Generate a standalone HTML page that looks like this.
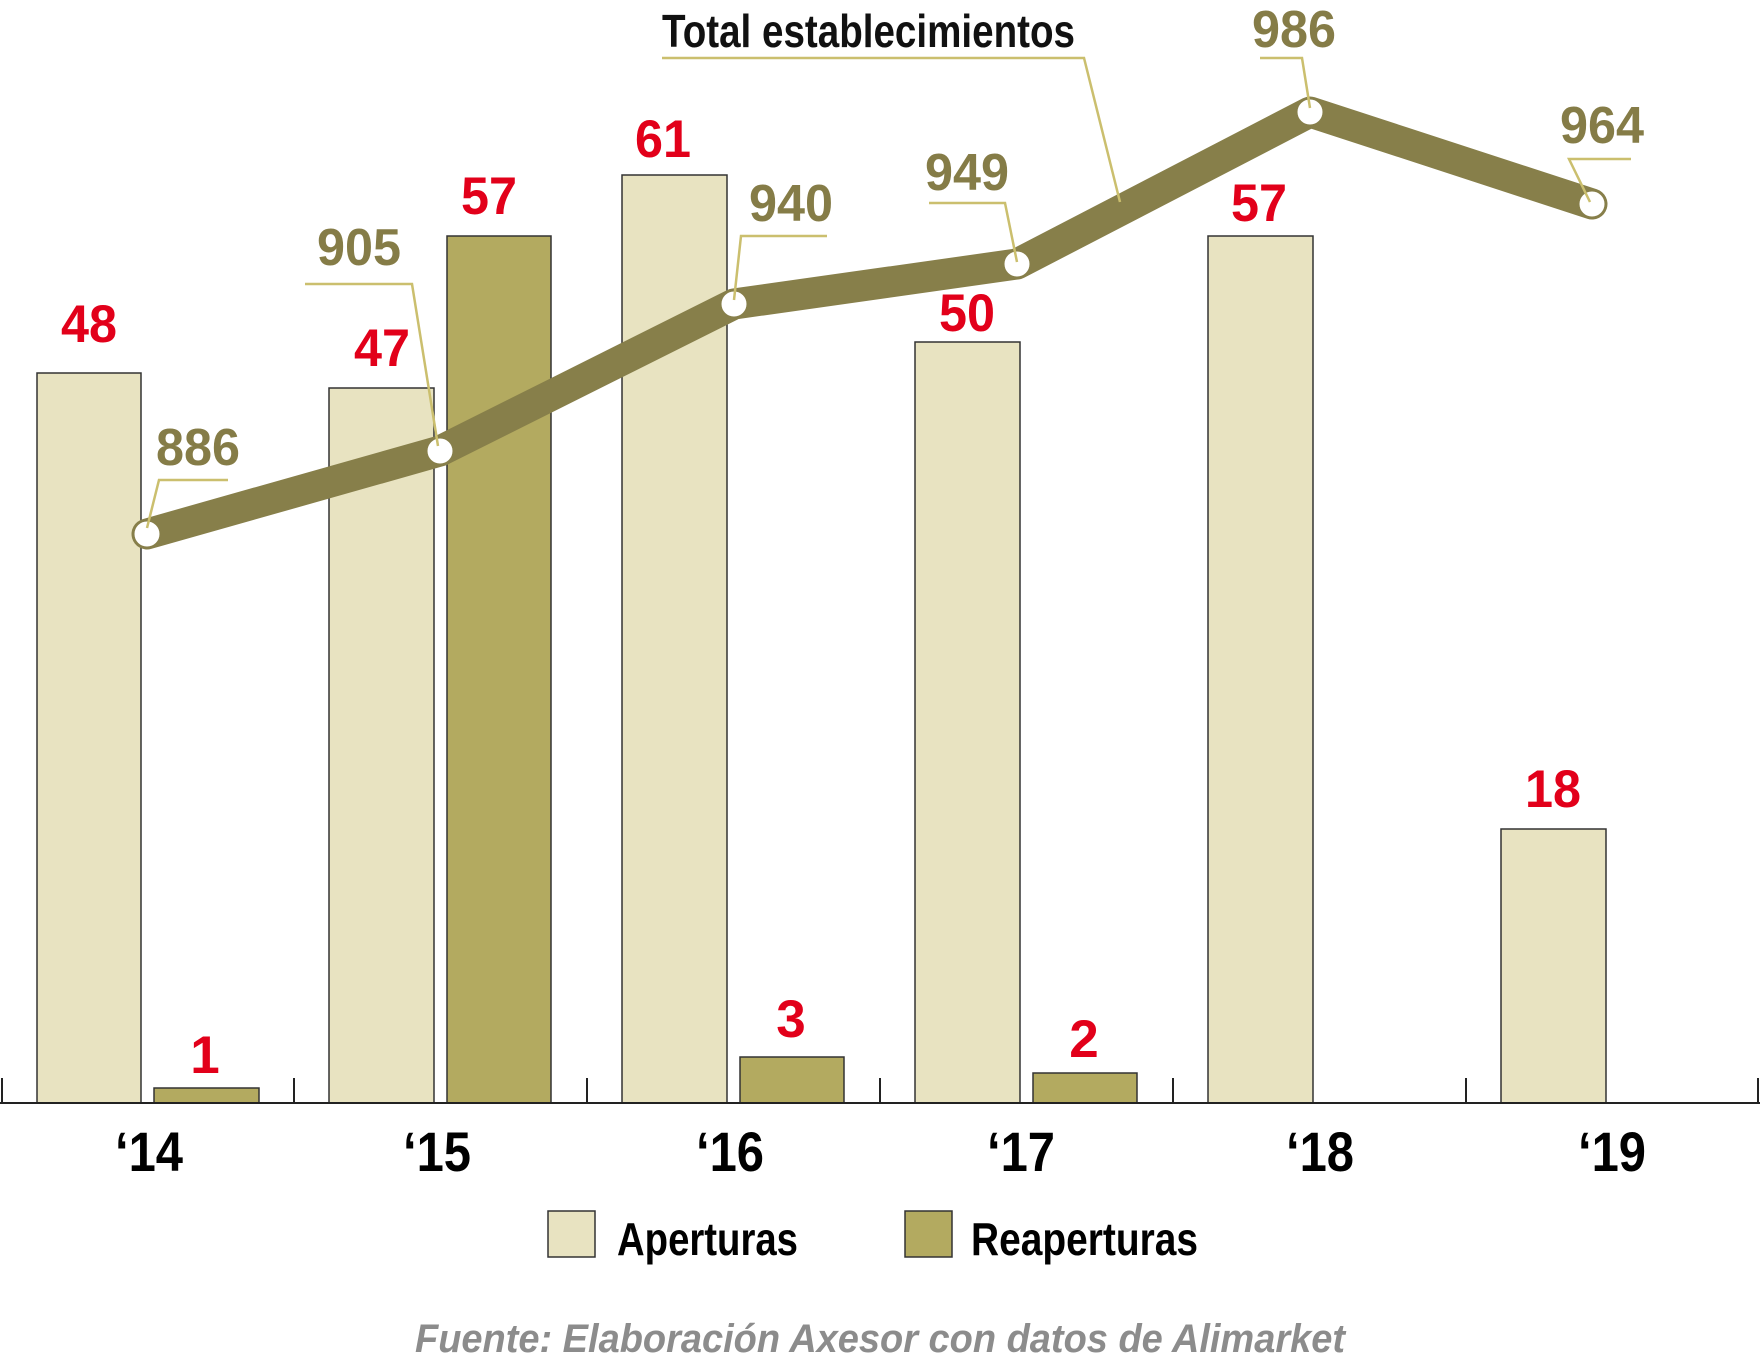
<!DOCTYPE html>
<html><head><meta charset="utf-8"><style>
html,body{margin:0;padding:0;background:#fff;}
svg{display:block}
text{font-family:"Liberation Sans Narrow","Liberation Sans",sans-serif;}
</style></head><body>
<svg width="1760" height="1365" viewBox="0 0 1760 1365" xmlns="http://www.w3.org/2000/svg">
<g stroke="#333" stroke-width="1.5">
<rect x="37" y="373" width="104" height="730" fill="#e8e3c1"/>
<rect x="154" y="1088" width="105" height="15" fill="#b3aa60"/>
<rect x="329" y="388" width="105" height="715" fill="#e8e3c1"/>
<rect x="447" y="236" width="104" height="867" fill="#b3aa60"/>
<rect x="622" y="175" width="105" height="928" fill="#e8e3c1"/>
<rect x="740" y="1057" width="104" height="46" fill="#b3aa60"/>
<rect x="915" y="342" width="105" height="761" fill="#e8e3c1"/>
<rect x="1033" y="1073" width="104" height="30" fill="#b3aa60"/>
<rect x="1208" y="236" width="105" height="867" fill="#e8e3c1"/>
<rect x="1501" y="829" width="105" height="274" fill="#e8e3c1"/>
</g>
<g stroke="#222" stroke-width="2">
<line x1="0" y1="1103" x2="1760" y2="1103"/>
<line x1="2" y1="1078" x2="2" y2="1103"/><line x1="294" y1="1078" x2="294" y2="1103"/>
<line x1="587" y1="1078" x2="587" y2="1103"/><line x1="880" y1="1078" x2="880" y2="1103"/>
<line x1="1173" y1="1078" x2="1173" y2="1103"/><line x1="1466" y1="1078" x2="1466" y2="1103"/>
<line x1="1758" y1="1078" x2="1758" y2="1103"/>
</g>
<polyline points="147,534 440,451 734,304 1017,264 1310,112 1592,204" fill="none" stroke="#877f4a" stroke-width="31" stroke-linejoin="round" stroke-linecap="round"/>
<g fill="#fff" stroke="#877f4a" stroke-width="1">
<circle cx="147" cy="534" r="13"/><circle cx="440" cy="451" r="13"/><circle cx="734" cy="304" r="13"/>
<circle cx="1017" cy="264" r="13"/><circle cx="1310" cy="112" r="13"/><circle cx="1592" cy="204" r="13"/>
</g>
<g fill="none" stroke="#cbbf6e" stroke-width="2.5">
<polyline points="228,480 159,480 147,528"/>
<polyline points="305,284 412,284 438,446"/>
<polyline points="827,236 741,236 734,300"/>
<polyline points="929,203 1005,203 1017,262"/>
<polyline points="1260,58 1302,58 1310,108"/>
<polyline points="1631,159 1569,159 1590,202"/>
<polyline points="662,58 1084,58 1120,202"/>
</g>
<text x="662" y="47" font-size="46" font-weight="bold" fill="#111" textLength="413" lengthAdjust="spacingAndGlyphs">Total establecimientos</text>
<g fill="#857c47" font-size="52" font-weight="bold" text-anchor="middle">
<text x="198" y="465" textLength="84" lengthAdjust="spacingAndGlyphs">886</text>
<text x="359" y="265" textLength="84" lengthAdjust="spacingAndGlyphs">905</text>
<text x="791" y="221" textLength="84" lengthAdjust="spacingAndGlyphs">940</text>
<text x="967" y="190" textLength="84" lengthAdjust="spacingAndGlyphs">949</text>
<text x="1294" y="47" textLength="84" lengthAdjust="spacingAndGlyphs">986</text>
<text x="1602" y="143" textLength="84" lengthAdjust="spacingAndGlyphs">964</text>
</g>
<g fill="#e2001a" font-size="53" font-weight="bold" text-anchor="middle">
<text x="89" y="342" textLength="56" lengthAdjust="spacingAndGlyphs">48</text>
<text x="382" y="366" textLength="56" lengthAdjust="spacingAndGlyphs">47</text>
<text x="489" y="214" textLength="56" lengthAdjust="spacingAndGlyphs">57</text>
<text x="663" y="157" textLength="56" lengthAdjust="spacingAndGlyphs">61</text>
<text x="967" y="331" textLength="56" lengthAdjust="spacingAndGlyphs">50</text>
<text x="1259" y="221" textLength="56" lengthAdjust="spacingAndGlyphs">57</text>
<text x="1553" y="807" textLength="56" lengthAdjust="spacingAndGlyphs">18</text>
<text x="205" y="1073">1</text>
<text x="791" y="1037">3</text>
<text x="1084" y="1057">2</text>
</g>
<g fill="#000" font-size="56" font-weight="bold" text-anchor="middle">
<text x="149" y="1171" textLength="68" lengthAdjust="spacingAndGlyphs">‘14</text>
<text x="437" y="1171" textLength="68" lengthAdjust="spacingAndGlyphs">‘15</text>
<text x="730" y="1171" textLength="68" lengthAdjust="spacingAndGlyphs">‘16</text>
<text x="1021" y="1171" textLength="68" lengthAdjust="spacingAndGlyphs">‘17</text>
<text x="1320" y="1171" textLength="68" lengthAdjust="spacingAndGlyphs">‘18</text>
<text x="1612" y="1171" textLength="68" lengthAdjust="spacingAndGlyphs">‘19</text>
</g>
<rect x="548" y="1211" width="47" height="46" fill="#e8e3c1" stroke="#333" stroke-width="1.5"/>
<rect x="905" y="1211" width="47" height="46" fill="#b3aa60" stroke="#333" stroke-width="1.5"/>
<text x="617" y="1255" font-size="46" font-weight="bold" fill="#000" textLength="181" lengthAdjust="spacingAndGlyphs">Aperturas</text>
<text x="971" y="1255" font-size="46" font-weight="bold" fill="#000" textLength="227" lengthAdjust="spacingAndGlyphs">Reaperturas</text>
<text x="415" y="1352" font-size="40" font-style="italic" font-weight="bold" fill="#8c8c8c" textLength="930" lengthAdjust="spacingAndGlyphs">Fuente: Elaboración Axesor con datos de Alimarket</text>
</svg>
</body></html>
